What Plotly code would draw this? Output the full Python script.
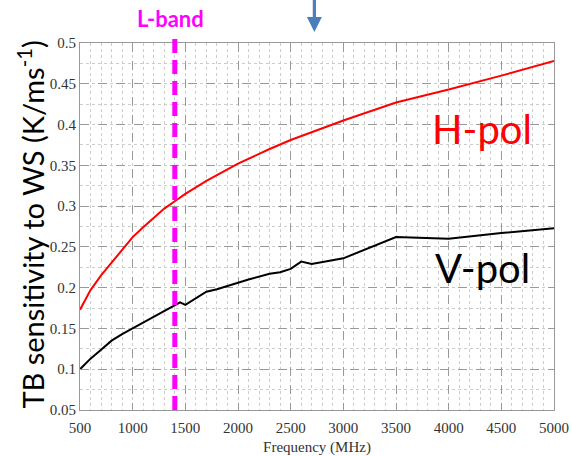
import plotly.graph_objects as go

freq_h = [500, 600, 700, 800, 900, 1000, 1100, 1200, 1300, 1400, 1500, 1700, 2000, 2300, 2500, 3000, 3500, 4000, 4500, 5000]
hpol = [0.173, 0.197, 0.215, 0.231, 0.246, 0.262, 0.274, 0.286, 0.297, 0.306, 0.315, 0.331, 0.352, 0.370, 0.381, 0.405, 0.427, 0.443, 0.460, 0.478]

freq_v = [500, 600, 700, 800, 900, 1000, 1100, 1200, 1300, 1400, 1450, 1500, 1600, 1700, 1800, 1900, 2000, 2100, 2300, 2400, 2500, 2600, 2700, 3000, 3500, 4000, 4500, 5000]
vpol = [0.100, 0.113, 0.124, 0.135, 0.143, 0.150, 0.157, 0.165, 0.171, 0.178, 0.182, 0.179, 0.187, 0.195, 0.198, 0.202, 0.206, 0.210, 0.217, 0.219, 0.223, 0.232, 0.229, 0.236, 0.262, 0.260, 0.267, 0.273]

lband_freq = 1400
arrow_freq = 2725

x_ticks = [500, 1000, 1500, 2000, 2500, 3000, 3500, 4000, 4500, 5000]
y_ticks = [0.05, 0.1, 0.15, 0.2, 0.25, 0.3, 0.35, 0.4, 0.45, 0.5]
y_tick_text = ["0.05", "0.1", "0.15", "0.2", "0.25", "0.3", "0.35", "0.4", "0.45", "0.5"]

fig = go.Figure()
fig.add_trace(go.Scatter(x=freq_h, y=hpol, mode="lines", line=dict(color="#ff0000", width=2), showlegend=False))
fig.add_trace(go.Scatter(x=freq_v, y=vpol, mode="lines", line=dict(color="#000000", width=2), showlegend=False))

L, R, T, B = 79.5, 18, 43, 46
W, H = 572, 456
pw, ph = W - L - R, H - T - B

def px_to_paper_y(py):
    return (H - B - py) / ph

# L-band dashed line
fig.add_shape(type="line", xref="x", yref="paper", x0=lband_freq, x1=lband_freq,
              y0=0, y1=px_to_paper_y(37), line=dict(color="#ff00ff", width=5, dash="14px,7px"), layer="above")

# blue arrow
ax = (arrow_freq - 500) / 4500
hw = 1.6 / pw
hh = 7.5 / pw
fig.add_shape(type="rect", xref="paper", yref="paper", x0=ax - hw, x1=ax + hw,
              y0=px_to_paper_y(18), y1=px_to_paper_y(-2), line=dict(width=0), fillcolor="#4a7ebb")
fig.add_shape(type="path", xref="paper", yref="paper",
              path=f"M {ax-hh} {px_to_paper_y(17)} L {ax+hh} {px_to_paper_y(17)} L {ax} {px_to_paper_y(32)} Z",
              line=dict(width=0), fillcolor="#4a7ebb")

fig.add_annotation(text="<b>L-band</b>", xref="paper", yref="paper", x=(170 - L) / pw, y=px_to_paper_y(19),
                   showarrow=False, font=dict(family="Lato", size=22, color="#ff00ff"), xanchor="center", yanchor="middle")
fig.add_annotation(text="H-pol", x=4320, y=0.395, showarrow=False,
                   font=dict(family="Lato", size=40, color="#ff0000"), xanchor="center", yanchor="middle")
fig.add_annotation(text="V-pol", x=4325, y=0.224, showarrow=False,
                   font=dict(family="Lato", size=40, color="#000000"), xanchor="center", yanchor="middle")
fig.add_annotation(text="TB sensitivity to WS (K/ms<sup>-1</sup>)", xref="paper", yref="paper",
                   x=(30 - L) / pw, y=px_to_paper_y(225), textangle=-90, showarrow=False,
                   font=dict(family="Lato", size=29, color="#000000"), xanchor="center", yanchor="middle")

axis_common = dict(
    showline=True, linecolor="#999999", linewidth=1, mirror=True,
    showgrid=True, gridcolor="#999999", griddash="dash", gridwidth=1,
    ticks="inside", ticklen=4, tickcolor="#999999",
    tickfont=dict(family="Liberation Serif", size=15, color="#333333"),
    zeroline=False,
)
fig.update_xaxes(range=[500, 5000], tickvals=x_ticks, ticktext=[str(v) for v in x_ticks],
                 ticklabelstandoff=4,
                 title=dict(text="Frequency (MHz)", font=dict(family="Liberation Serif", size=15, color="#333333"), standoff=6),
                 minor=dict(dtick=100, showgrid=True, gridcolor="#cccccc", griddash="dot", gridwidth=1),
                 **axis_common)
fig.update_yaxes(range=[0.05, 0.5], tickvals=y_ticks, ticktext=y_tick_text,
                 minor=dict(dtick=0.025, showgrid=True, gridcolor="#cccccc", griddash="dot", gridwidth=1),
                 **axis_common)

fig.update_layout(width=W, height=H, margin=dict(l=L, r=R, t=T, b=B, autoexpand=False),
                  plot_bgcolor="white", paper_bgcolor="white", showlegend=False)
fig.write_html("out.html")
